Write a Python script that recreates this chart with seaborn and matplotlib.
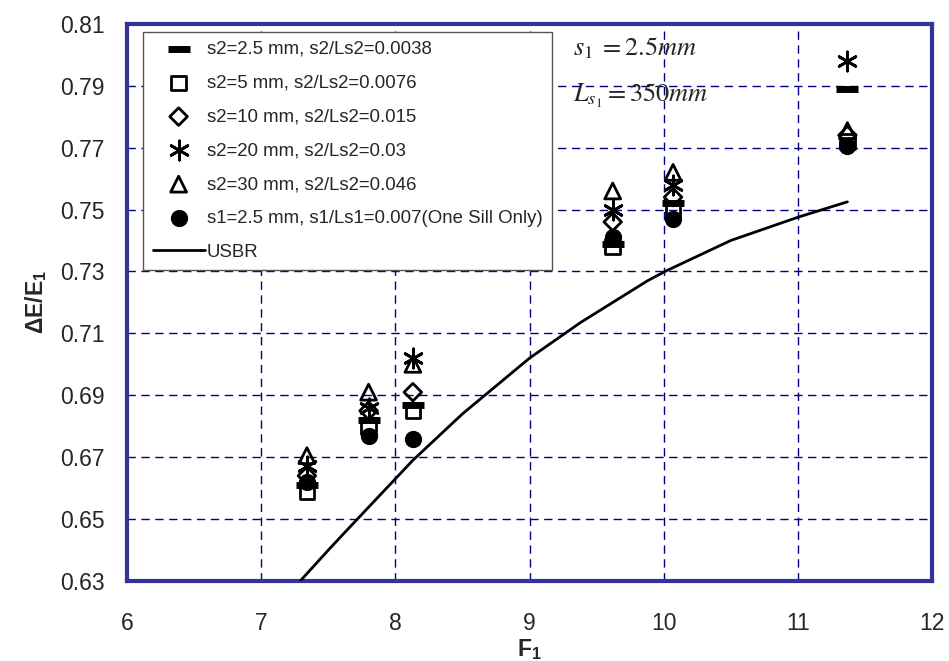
import matplotlib
matplotlib.use("Agg")
import matplotlib.pyplot as plt
import seaborn as sns

# ==================
# Data
# ==================
froude = [7.34, 7.80, 8.13, 9.62, 10.07, 11.37]

s2_25 = [0.661, 0.682, 0.687, 0.739, 0.752, 0.789]
s2_5 = [0.659, 0.680, 0.685, 0.738, 0.750, 0.772]
s2_10 = [0.664, 0.685, 0.691, 0.746, 0.754, 0.774]
s2_20 = [0.667, 0.686, 0.702, 0.750, 0.758, 0.798]
s2_30 = [0.6705, 0.691, 0.700, 0.756, 0.762, 0.7755]
one_sill = [0.662, 0.677, 0.676, 0.741, 0.747, 0.7705]

usbr_f = [7.29, 7.50, 7.64, 8.13, 8.50, 9.00, 9.38, 9.88, 10.01, 10.50, 11.00, 11.37]
usbr_e = [0.630, 0.640, 0.6465, 0.669, 0.684, 0.702, 0.7135, 0.727, 0.730, 0.740, 0.7475, 0.7525]

labels = [
    "s2=2.5 mm, s2/Ls2=0.0038",
    "s2=5 mm, s2/Ls2=0.0076",
    "s2=10 mm, s2/Ls2=0.015",
    "s2=20 mm, s2/Ls2=0.03",
    "s2=30 mm, s2/Ls2=0.046",
    "s1=2.5 mm, s1/Ls1=0.007(One Sill Only)",
]

# ==================
# Style
# ==================
sns.set_style("white")
plt.rcParams["font.family"] = ["Liberation Sans", "DejaVu Sans"]
plt.rcParams["mathtext.fontset"] = "custom"
plt.rcParams["mathtext.rm"] = "Liberation Sans"
plt.rcParams["mathtext.bf"] = "Liberation Sans:bold"
plt.rcParams["mathtext.it"] = "Liberation Sans:italic"

fig = plt.figure(figsize=(9.49, 6.61), dpi=100)
ax = fig.add_axes([0.134, 0.121, 0.848, 0.843])

# ==================
# Points
# ==================
sns.scatterplot(x=froude, y=s2_25, marker="_", s=260, color="black",
                linewidth=5, label=labels[0], ax=ax, zorder=3)
sns.scatterplot(x=froude, y=s2_5, marker="s", s=110, facecolor="none",
                edgecolor="black", linewidth=2, label=labels[1], ax=ax, zorder=3)
sns.scatterplot(x=froude, y=s2_10, marker="D", s=80, facecolor="none",
                edgecolor="black", linewidth=2, label=labels[2], ax=ax, zorder=3)
sns.scatterplot(x=froude, y=s2_20, marker=(6, 2, 0), s=190, color="black",
                linewidth=2, label=labels[3], ax=ax, zorder=3)
sns.scatterplot(x=froude, y=s2_30, marker="^", s=130, facecolor="none",
                edgecolor="black", linewidth=2, label=labels[4], ax=ax, zorder=3)
sns.scatterplot(x=froude, y=one_sill, marker="o", s=130, color="black",
                edgecolor="black", linewidth=1, label=labels[5], ax=ax, zorder=3)

sns.lineplot(x=usbr_f, y=usbr_e, color="black", linewidth=2,
             label="USBR", ax=ax, zorder=3)

# ==================
# Axes
# ==================
ax.set_xlim(6, 12)
ax.set_ylim(0.63, 0.81)
ax.set_xticks(range(6, 13))
yt = [0.63 + 0.02 * i for i in range(10)]
ax.set_yticks(yt)
ax.set_yticklabels([f"{v:.2f}" for v in yt])

ax.grid(True, color="#000080", linestyle=(0, (6, 4)), linewidth=1)
ax.set_axisbelow(True)
for sp in ax.spines.values():
    sp.set_color("#333399")
    sp.set_linewidth(3)

ax.tick_params(axis="both", direction="out", length=6, width=1,
               color="#555555", labelsize=16.5)
ax.tick_params(axis="y", pad=10)
ax.tick_params(axis="x", pad=16)

ax.set_xlabel(r"$\mathbf{F_1}$", fontsize=16.5, labelpad=2)
ax.set_ylabel(r"$\mathbf{\Delta E/E_1}$", fontsize=16.5, labelpad=8)

# ==================
# Notes
# ==================
ax.text(0.554, 0.944, r"$s_1\;=2.5mm$", transform=ax.transAxes,
        fontsize=19, math_fontfamily="stix", va="baseline")
ax.text(0.554, 0.860, r"$L_{s_1}=350mm$", transform=ax.transAxes,
        fontsize=19, math_fontfamily="stix", va="baseline")

leg = ax.legend(loc="upper left", bbox_to_anchor=(0.02, 0.986),
                borderaxespad=0, fontsize=13.4, frameon=True, fancybox=False,
                edgecolor="#555555", framealpha=1, handlelength=2.8,
                handletextpad=0.1, labelspacing=0.9, borderpad=0.5)
leg.get_frame().set_linewidth(1)

plt.savefig("out.png", dpi=100)
